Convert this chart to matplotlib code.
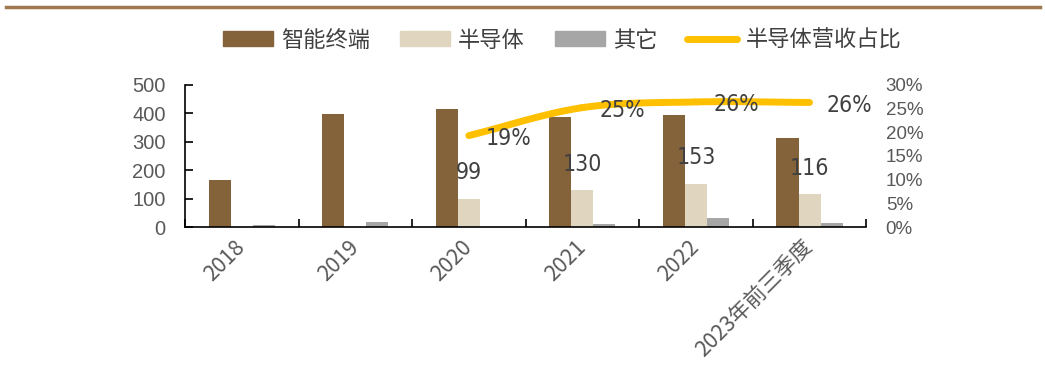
import numpy as np
import matplotlib.pyplot as plt
from matplotlib.lines import Line2D
from matplotlib.patches import Patch

plt.rcParams['font.family'] = ['Noto Sans CJK SC', 'DejaVu Sans']

years = ["2018", "2019", "2020", "2021", "2022", "2023年前三季度"]
smart_terminal = [166, 399, 416, 387, 395, 313]
semiconductor = [0, 0, 99, 130, 153, 116]
other = [6, 17, 0, 9, 32, 13]
semi_share = [None, None, 0.193, 0.252, 0.264, 0.263]

c_smart = "#84623A"
c_semi = "#E0D6BF"
c_other = "#A6A6A6"
c_line = "#FFC000"
c_text = "#595959"
c_label = "#404040"
narrow = ["Liberation Sans Narrow", "DejaVu Sans"]

fig = plt.figure(figsize=(10.45, 3.74), dpi=100)
ax = fig.add_axes([0.177, 0.393, 0.652, 0.380])

x = np.arange(len(years))
w = 0.194
ax.bar(x - w, smart_terminal, w, color=c_smart)
ax.bar(x, semiconductor, w, color=c_semi)
ax.bar(x + w, other, w, color=c_other)

for xi, v in zip(x, semiconductor):
    if v:
        ax.annotate(str(v), (xi, v), xytext=(0, 26), textcoords="offset pixels",
                    ha="center", va="center", fontsize=16.5, color=c_label,
                    family=narrow, stretch="condensed")

ax.set_xlim(-0.5, len(years) - 0.5)
ax.set_ylim(0, 500)
ax.set_yticks(range(0, 501, 100))
ax.tick_params(axis="y", direction="in", length=6, width=1.2, labelsize=14.5,
               labelcolor=c_text, pad=14)
for lab in ax.get_yticklabels():
    lab.set_family("Liberation Sans")
ax.set_xticks(np.arange(len(years) + 1) - 0.5, minor=True)
ax.set_xticks(x)
ax.set_xticklabels(years, rotation=45, ha="right", va="center",
                   rotation_mode="anchor", fontsize=15.5, color=c_text)
ax.tick_params(axis="x", which="major", length=0, pad=12)
ax.tick_params(axis="x", which="minor", direction="in", length=6, width=1.2)
for s in ["top", "right"]:
    ax.spines[s].set_visible(False)
ax.spines["left"].set_linewidth(1.2)
ax.spines["bottom"].set_linewidth(1.2)

# right axis: semiconductor revenue share
ax2 = ax.twinx()
ax2.set_ylim(0, 0.30)
ax2.set_yticks(np.arange(0, 0.301, 0.05))
ax2.set_yticklabels([f"{int(round(t * 100))}%" for t in np.arange(0, 0.301, 0.05)],
                    family="Liberation Sans")
ax2.tick_params(axis="y", length=0, labelsize=13.5, labelcolor=c_text, pad=14)
for s in ax2.spines.values():
    s.set_visible(False)

# smoothed share curve (Catmull-Rom through the yearly points)
px = np.array([xi for xi, v in zip(x, semi_share) if v is not None], dtype=float)
py = np.array([v for v in semi_share if v is not None])
ext_x = np.concatenate([[2 * px[0] - px[1]], px, [2 * px[-1] - px[-2]]])
ext_y = np.concatenate([[2 * py[0] - py[1]], py, [2 * py[-1] - py[-2]]])
cx, cy = [], []
for i in range(1, len(ext_x) - 2):
    t = np.linspace(0, 1, 30)
    for arr, out in ((ext_x, cx), (ext_y, cy)):
        p0, p1, p2, p3 = arr[i - 1], arr[i], arr[i + 1], arr[i + 2]
        out.extend(0.5 * (2 * p1 + (-p0 + p2) * t + (2 * p0 - 5 * p1 + 4 * p2 - p3) * t ** 2
                          + (-p0 + 3 * p1 - 3 * p2 + p3) * t ** 3))
ax2.plot(cx, cy, color=c_line, lw=5, solid_capstyle="round")

for xi, v in zip(px, py):
    ax2.annotate(f"{v:.0%}", (xi, v), xytext=(40, -3), textcoords="offset pixels",
                 ha="center", va="center", fontsize=16.5, color=c_label,
                 family=narrow, stretch="condensed")

handles = [Patch(color=c_smart), Patch(color=c_semi), Patch(color=c_other),
           Line2D([], [], color=c_line, lw=5, solid_capstyle="round")]
fig.legend(handles, ["智能终端", "半导体", "其它", "半导体营收占比"], ncol=4,
           loc="center", bbox_to_anchor=(0.538, 0.893), frameon=False,
           fontsize=16, handlelength=2.25, handleheight=0.65, handletextpad=0.36,
           columnspacing=1.35, labelcolor=c_label)

fig.add_artist(Line2D([0.006, 0.995], [0.981, 0.981], color="#A07850", lw=2.5))

fig.savefig("out.png", dpi=100)
